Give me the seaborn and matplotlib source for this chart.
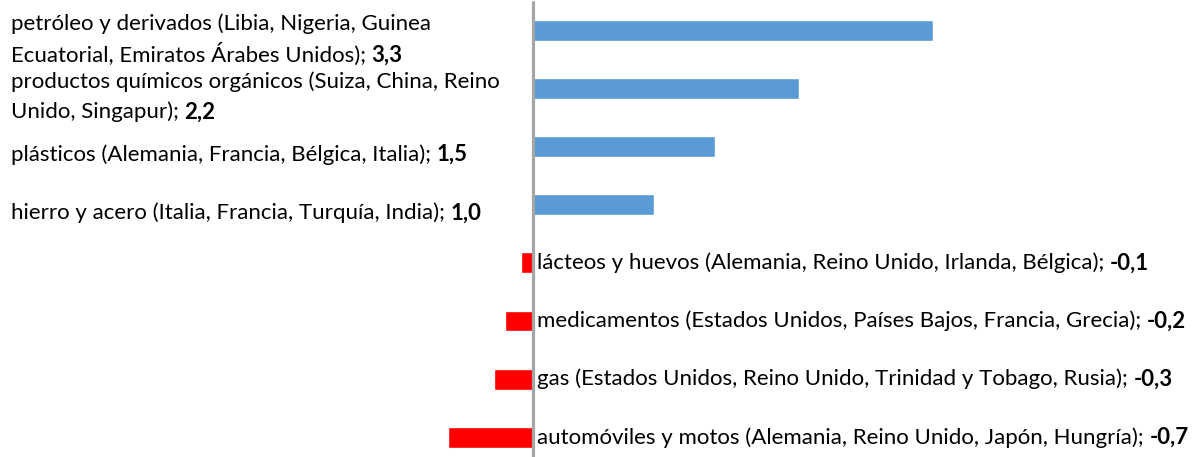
import matplotlib
matplotlib.use("Agg")
import matplotlib.pyplot as plt
import matplotlib.transforms as mtransforms
import pandas as pd
import seaborn as sns

# ── Data ──────────────────────────────────────────────────────────────────────
CATEGORIES = [
    "petróleo y derivados (Libia, Nigeria, Guinea\nEcuatorial, Emiratos Árabes Unidos)",
    "productos químicos orgánicos (Suiza, China, Reino\nUnido, Singapur)",
    "plásticos (Alemania, Francia, Bélgica, Italia)",
    "hierro y acero (Italia, Francia, Turquía, India)",
    "lácteos y huevos (Alemania, Reino Unido, Irlanda, Bélgica)",
    "medicamentos (Estados Unidos, Países Bajos, Francia, Grecia)",
    "gas (Estados Unidos, Reino Unido, Trinidad y Tobago, Rusia)",
    "automóviles y motos (Alemania, Reino Unido, Japón, Hungría)",
]
VALUES = [3.3, 2.2, 1.5, 1.0, -0.1, -0.23, -0.32, -0.7]
VALUE_LABELS = ["3,3", "2,2", "1,5", "1,0", "-0,1", "-0,2", "-0,3", "-0,7"]

# ── Style ─────────────────────────────────────────────────────────────────────
BLUE = "#5B9BD5"
RED = "#FF0000"
AXIS_GREY = "#A6A6A6"
FONT = ["Lato", "DejaVu Sans"]
FS = 16
LINE_STEP = 0.53   # line spacing of two-line labels, in rows

sns.set_theme(style="white")
plt.rcParams["font.family"] = FONT

df = pd.DataFrame({
    "producto": CATEGORIES,
    "valor": VALUES,
    "signo": ["pos" if v >= 0 else "neg" for v in VALUES],
})

fig = plt.figure(figsize=(11.99, 4.57), dpi=100)
ax = fig.add_axes([0, 0, 1, 1])

sns.barplot(
    data=df, x="valor", y="producto", hue="signo",
    palette={"pos": BLUE, "neg": RED}, order=CATEGORIES,
    dodge=False, width=0.36, saturation=1, legend=False, ax=ax,
)

ax.set_xlim(-4.40, 5.50)
ax.set_ylim(7.34, -0.525)
ax.axis("off")
ax.axvline(0, ymin=0, ymax=1 - 2 / 457, color=AXIS_GREY, lw=2.3, zorder=5)

# ── Labels (text; bold value) ─────────────────────────────────────────────────
left_trans = mtransforms.blended_transform_factory(ax.transAxes, ax.transData)

for i, (cat, val, vlab) in enumerate(zip(CATEGORIES, VALUES, VALUE_LABELS)):
    lines = cat.split("\n")
    n = len(lines)
    if val >= 0:
        x, trans, y0 = 0.009, left_trans, i + 0.14
    else:
        x, trans, y0 = 0.035, ax.transData, i
    last = None
    for k, line in enumerate(lines):
        y = y0 + (k - (n - 1) / 2) * LINE_STEP
        txt = line + (";" if k == n - 1 else "")
        last = ax.text(x, y, txt, transform=trans, ha="left", va="center",
                       fontsize=FS, color="black")
    ax.annotate(vlab, xy=(1, 0), xycoords=last, xytext=(4, 0),
                textcoords="offset points", ha="left", va="bottom",
                fontsize=FS, fontweight="bold", color="black")

fig.savefig("out.png", dpi=100)
plt.close(fig)
